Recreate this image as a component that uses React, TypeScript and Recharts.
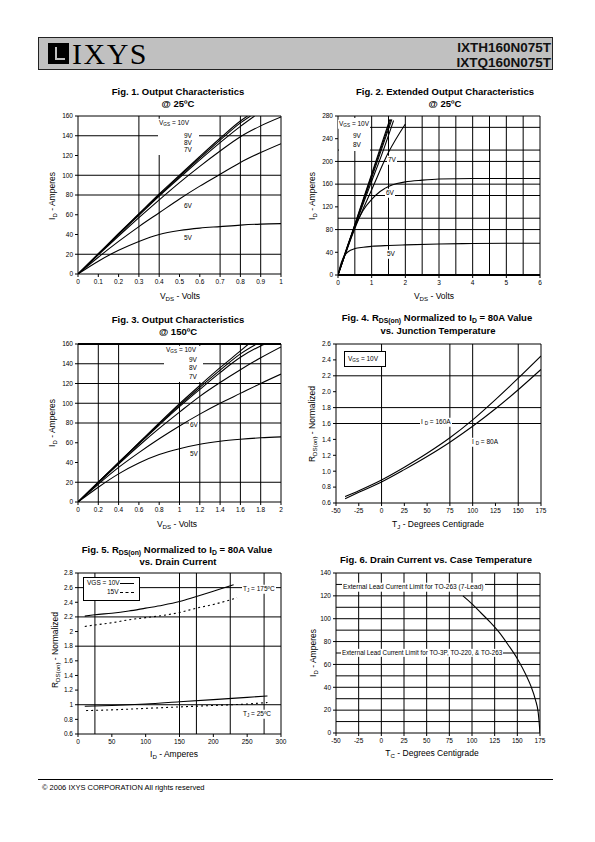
import React from 'react';
import { LineChart, Line, XAxis, YAxis, ReferenceLine } from 'recharts';

const FONT = "'Liberation Sans', Arial, sans-serif";

type Pt = [number, number];

// Fig. 1 - output characteristics @ 25C (VDS, ID)
const f1Vgs10: Pt[] = [[0, 0], [0.1, 20.5], [0.2, 41], [0.3, 61], [0.4, 81], [0.5, 100], [0.6, 119], [0.7, 137.5], [0.8, 155], [0.835, 160]];
const f1Vgs9: Pt[] = [[0, 0], [0.1, 20.3], [0.2, 40.5], [0.3, 60.5], [0.4, 80], [0.5, 99], [0.6, 117.5], [0.7, 135.5], [0.8, 153], [0.85, 160]];
const f1Vgs8: Pt[] = [[0, 0], [0.1, 20], [0.2, 40], [0.3, 59.5], [0.4, 79], [0.5, 97.5], [0.6, 115.5], [0.7, 133], [0.8, 149.5], [0.87, 160]];
const f1Vgs7: Pt[] = [[0, 0], [0.1, 19.5], [0.2, 38.5], [0.3, 57], [0.4, 75], [0.5, 92.5], [0.6, 109], [0.7, 124.5], [0.8, 139], [0.9, 150], [1.0, 159]];
const f1Vgs6: Pt[] = [[0, 0], [0.1, 17], [0.2, 33], [0.3, 48], [0.4, 62], [0.5, 76], [0.6, 89], [0.7, 101], [0.8, 113], [0.9, 123], [1.0, 132]];
const f1Vgs5: Pt[] = [[0, 0], [0.1, 13], [0.2, 24], [0.3, 33], [0.4, 40], [0.5, 44], [0.6, 46.5], [0.7, 48], [0.8, 49.5], [0.9, 50.5], [1.0, 51]];

// Fig. 2 - extended output characteristics @ 25C
const f2Vgs10: Pt[] = [[0, 0], [0.5, 89], [1, 178], [1.54, 274]];
const f2Vgs9: Pt[] = [[0, 0], [0.5, 88], [1, 175], [1.57, 274]];
const f2Vgs8: Pt[] = [[0, 0], [0.5, 87], [1, 171], [1.6, 274]];
const f2Vgs8b: Pt[] = [[0, 0], [0.5, 85], [1, 165], [1.3, 212], [1.65, 272]];
const f2Vgs7: Pt[] = [[0, 0], [0.5, 82], [1, 150], [1.5, 216], [2, 266]];
const f2Vgs6: Pt[] = [[0, 0], [0.25, 46], [0.5, 85], [0.75, 114], [1, 133], [1.25, 147], [1.5, 156], [1.75, 161], [2, 164], [2.5, 167], [3, 169], [4, 170], [5, 170], [6, 170]];
const f2Vgs5: Pt[] = [[0, 0], [0.1, 22], [0.2, 35], [0.3, 41], [0.5, 46.5], [0.75, 49], [1, 50.5], [1.5, 52], [2, 53], [3, 54.5], [4, 55.5], [5, 56], [6, 56]];

// Fig. 3 - output characteristics @ 150C
const f3Vgs10: Pt[] = [[0, 0], [0.2, 20], [0.4, 40], [0.6, 60], [0.8, 80], [1.0, 99.5], [1.2, 118], [1.4, 136], [1.6, 153], [1.68, 160]];
const f3Vgs9: Pt[] = [[0, 0], [0.2, 20], [0.4, 40], [0.6, 59.5], [0.8, 79], [1.0, 98], [1.2, 116], [1.4, 133.5], [1.6, 150], [1.76, 160]];
const f3Vgs8: Pt[] = [[0, 0], [0.2, 20], [0.4, 39.5], [0.6, 59], [0.8, 78], [1.0, 96.5], [1.2, 114], [1.4, 131], [1.6, 146.5], [1.8, 158], [1.845, 160]];
const f3Vgs7: Pt[] = [[0, 0], [0.2, 19.5], [0.4, 38.5], [0.6, 57], [0.8, 74.5], [1.0, 91], [1.2, 107], [1.4, 121], [1.6, 134], [1.8, 146], [2.0, 157]];
const f3Vgs6: Pt[] = [[0, 0], [0.2, 18], [0.4, 35], [0.6, 50], [0.8, 64], [1.0, 77], [1.2, 89], [1.4, 100], [1.6, 110], [1.8, 120], [2.0, 129.5]];
const f3Vgs5: Pt[] = [[0, 0], [0.2, 15], [0.4, 28.5], [0.6, 39.5], [0.8, 48], [1.0, 54], [1.2, 58.5], [1.4, 61.5], [1.6, 63.5], [1.8, 65], [2.0, 66]];

// Fig. 4 - RDS(on) normalized vs TJ
const f4Id160: Pt[] = [[-40, 0.68], [-25, 0.755], [0, 0.89], [25, 1.05], [50, 1.225], [75, 1.42], [100, 1.645], [125, 1.9], [150, 2.17], [175, 2.45]];
const f4Id80: Pt[] = [[-40, 0.655], [-25, 0.735], [0, 0.865], [25, 1.02], [50, 1.185], [75, 1.365], [100, 1.565], [125, 1.785], [150, 2.025], [175, 2.28]];

// Fig. 5 - RDS(on) normalized vs ID
const f5Hot10: Pt[] = [[10, 2.21], [25, 2.23], [50, 2.25], [75, 2.28], [100, 2.32], [125, 2.36], [150, 2.41], [175, 2.48], [200, 2.55], [230, 2.64]];
const f5Hot15: Pt[] = [[10, 2.07], [25, 2.09], [50, 2.12], [75, 2.16], [100, 2.19], [125, 2.22], [150, 2.26], [175, 2.32], [200, 2.37], [235, 2.46]];
const f5Cold10: Pt[] = [[10, 0.98], [50, 0.99], [100, 1.01], [150, 1.04], [200, 1.07], [250, 1.1], [280, 1.12]];
const f5Cold15: Pt[] = [[12, 0.92], [50, 0.93], [100, 0.95], [150, 0.97], [200, 0.99], [250, 1.01], [280, 1.03]];

// Fig. 6 - drain current vs case temperature
const f6Id: Pt[] = [[90, 120], [100, 113], [110, 105], [120, 97], [130, 88], [140, 77], [150, 65], [160, 50], [165, 41], [170, 29], [173, 18], [175, 0]];

// ticks / grid values
const tk1x = [0, 0.1, 0.2, 0.3, 0.4, 0.5, 0.6, 0.7, 0.8, 0.9, 1];
const tk160 = [0, 20, 40, 60, 80, 100, 120, 140, 160];
const tk2x = [0, 1, 2, 3, 4, 5, 6];
const tk2y = [0, 40, 80, 120, 160, 200, 240, 280];
const tk3x = [0, 0.2, 0.4, 0.6, 0.8, 1, 1.2, 1.4, 1.6, 1.8, 2];
const tkTemp = [-50, -25, 0, 25, 50, 75, 100, 125, 150, 175];
const tk4y = [0.6, 0.8, 1.0, 1.2, 1.4, 1.6, 1.8, 2.0, 2.2, 2.4, 2.6];
const tk5x = [0, 50, 100, 150, 200, 250, 300];
const tk5y = [0.6, 0.8, 1, 1.2, 1.4, 1.6, 1.8, 2, 2.2, 2.4, 2.6, 2.8];
const tk6y = [0, 20, 40, 60, 80, 100, 120, 140];

const g1h = [20, 80, 100, 140];
const g1v = [0.3, 0.4, 0.7, 0.8, 0.9];
const g2h = [80, 100, 140, 160, 200, 220, 260];
const g2v = [0.5, 1, 1.5, 2, 2.5, 3, 3.5, 4, 4.5, 5, 5.5];
const g3h = [20, 80, 100, 120, 140];
const g3v = [0.2, 0.4, 1, 1.2, 1.4, 1.6, 1.8];
const g4h = [1.6, 1.8, 2.2];
const g4v = [0, 75, 100, 150];
const g5h = [1, 1.8, 2.2, 2.6];
const g5v = [25, 150, 175, 225, 275];
const g6h = [10, 20, 30, 40, 50, 60, 70, 80, 90, 100, 110, 120, 130];
const g6v = [-25, 0, 25, 50, 75, 100, 125, 150];

const rows = (pts: Pt[]) => pts.map(([x, y]) => ({ x, y }));

interface Series { pts: Pt[]; dash?: string }

interface PlotProps {
  left: number; top: number; w: number; h: number;
  xDomain: [number, number]; yDomain: [number, number];
  xTicks: number[]; yTicks: number[];
  yFmt?: (v: number) => string;
  hGrid: number[]; vGrid: number[];
  series: Series[];
  bottomW?: number; topW?: number;
}

function Plot(p: PlotProps) {
  const tick = { fontSize: 6.5, fill: '#000', fontFamily: FONT };
  return (
    <div style={{ position: 'absolute', left: p.left - 40, top: p.top - 4 }}>
      <LineChart width={p.w + 48} height={p.h + 20} margin={{ top: 4, right: 8, bottom: 0, left: 0 }}>
        <XAxis type="number" dataKey="x" domain={p.xDomain} ticks={p.xTicks} interval={0} allowDataOverflow
          tick={tick} tickSize={3} tickLine={{ stroke: '#000' }} axisLine={{ stroke: '#000', strokeWidth: p.bottomW ?? 1 }} height={16} />
        <YAxis type="number" domain={p.yDomain} ticks={p.yTicks} interval={0} allowDataOverflow tickFormatter={p.yFmt}
          tick={tick} tickSize={3} tickLine={{ stroke: '#000' }} axisLine={{ stroke: '#000' }} width={40} />
        {p.hGrid.map((v) => <ReferenceLine key={'h' + v} y={v} stroke="#000" strokeWidth={1} />)}
        {p.vGrid.map((v) => <ReferenceLine key={'v' + v} x={v} stroke="#000" strokeWidth={1} />)}
        <ReferenceLine y={p.yDomain[1]} stroke="#000" strokeWidth={p.topW ?? 1} />
        <ReferenceLine x={p.xDomain[1]} stroke="#000" strokeWidth={1} />
        {p.series.map((s, i) => (
          <Line key={i} data={rows(s.pts)} dataKey="y" type="monotone" stroke="#000" strokeWidth={1.1}
            strokeDasharray={s.dash} dot={false} isAnimationActive={false} />
        ))}
      </LineChart>
    </div>
  );
}

const Sub = ({ children }: { children: React.ReactNode }) => (
  <sub style={{ fontSize: '0.72em', verticalAlign: '-0.3em', lineHeight: 0 }}>{children}</sub>
);

function CText({ x, y, size = 8.5, bold, children }: { x: number; y: number; size?: number; bold?: boolean; children: React.ReactNode }) {
  return (
    <div style={{ position: 'absolute', left: x, top: y, transform: 'translate(-50%,-50%)', whiteSpace: 'nowrap',
      fontSize: size, fontWeight: bold ? 'bold' : 'normal', lineHeight: 1 }}>{children}</div>
  );
}

function VText({ x, y, children }: { x: number; y: number; children: React.ReactNode }) {
  return (
    <div style={{ position: 'absolute', left: x, top: y, transform: 'translate(-50%,-50%) rotate(-90deg)', whiteSpace: 'nowrap',
      fontSize: 8.5, lineHeight: 1 }}>{children}</div>
  );
}

function Tag({ x, y, size = 6.5, children }: { x: number; y: number; size?: number; children: React.ReactNode }) {
  return (
    <div style={{ position: 'absolute', left: x, top: y, transform: 'translateY(-50%)', whiteSpace: 'nowrap', background: '#fff',
      fontSize: size, lineHeight: 1, padding: '1px 1px' }}>{children}</div>
  );
}

function WhiteBox({ x, y, w, h, border }: { x: number; y: number; w: number; h: number; border?: boolean }) {
  return <div style={{ position: 'absolute', left: x, top: y, width: w, height: h, background: '#fff', boxSizing: 'border-box',
    border: border ? '1px solid #000' : 'none' }} />;
}

export default function App() {
  const f4 = (v: number) => v.toFixed(1);
  return (
    <div style={{ position: 'absolute', left: 0, top: 0, width: 595, height: 842, background: '#fff', fontFamily: FONT, color: '#000' }}>
      {/* header */}
      <div style={{ position: 'absolute', left: 38, top: 37, width: 515, height: 33, background: '#c0c0c0', border: '1px solid #222', boxSizing: 'border-box' }} />
      <div style={{ position: 'absolute', left: 48, top: 43, width: 21, height: 21, background: '#000' }} />
      <div style={{ position: 'absolute', left: 55, top: 47, width: 10, height: 13, background: '#c0c0c0' }} />
      <div style={{ position: 'absolute', left: 57, top: 47, width: 8, height: 11, background: '#000' }} />
      <div style={{ position: 'absolute', left: 72, top: 38, fontFamily: "'Liberation Serif', 'Times New Roman', serif", fontSize: 30, lineHeight: '32px', letterSpacing: 1.5 }}>IXYS</div>
      <div style={{ position: 'absolute', right: 44, top: 40, fontSize: 13.5, fontWeight: 'bold', lineHeight: '15px', textAlign: 'right', color: '#111' }}>
        IXTH160N075T<br />IXTQ160N075T
      </div>

      {/* Fig 1 */}
      <CText x={178} y={92} size={9.5} bold>Fig. 1. Output Characteristics</CText>
      <CText x={178} y={104} size={9.5} bold>@ 25ºC</CText>
      <Plot left={78} top={116} w={203} h={158} xDomain={[0, 1]} yDomain={[0, 160]} xTicks={tk1x} yTicks={tk160}
        hGrid={g1h} vGrid={g1v}
        series={[{ pts: f1Vgs10 }, { pts: f1Vgs9 }, { pts: f1Vgs8 }, { pts: f1Vgs7 }, { pts: f1Vgs6 }, { pts: f1Vgs5 }]} />
      <WhiteBox x={158} y={119} w={41} h={36} />
      <Tag x={158} y={123}>V<Sub>GS</Sub> = 10V</Tag>
      <Tag x={183} y={136}>9V</Tag>
      <Tag x={183} y={143}>8V</Tag>
      <Tag x={183} y={150}>7V</Tag>
      <Tag x={183} y={206}>6V</Tag>
      <Tag x={183} y={238}>5V</Tag>
      <CText x={180} y={296}>V<Sub>DS</Sub> - Volts</CText>
      <VText x={52} y={196}>I<Sub>D</Sub> - Amperes</VText>

      {/* Fig 2 */}
      <CText x={445} y={92} size={9.5} bold>Fig. 2. Extended Output Characteristics</CText>
      <CText x={445} y={104} size={9.5} bold>@ 25ºC</CText>
      <Plot left={338} top={116} w={202} h={159} xDomain={[0, 6]} yDomain={[0, 280]} xTicks={tk2x} yTicks={tk2y}
        hGrid={g2h} vGrid={g2v} bottomW={2}
        series={[{ pts: f2Vgs10 }, { pts: f2Vgs9 }, { pts: f2Vgs8 }, { pts: f2Vgs8b }, { pts: f2Vgs7 }, { pts: f2Vgs6 }, { pts: f2Vgs5 }]} />
      <WhiteBox x={339} y={118} w={31} h={33} />
      <Tag x={338} y={124}>V<Sub>GS</Sub> = 10V</Tag>
      <Tag x={352} y={136}>9V</Tag>
      <Tag x={352} y={145}>8V</Tag>
      <Tag x={387} y={160}>7V</Tag>
      <Tag x={385} y={193}>6V</Tag>
      <Tag x={386} y={254}>5V</Tag>
      <CText x={434} y={296}>V<Sub>DS</Sub> - Volts</CText>
      <VText x={312} y={196}>I<Sub>D</Sub> - Amperes</VText>

      {/* Fig 3 */}
      <CText x={178} y={320} size={9.5} bold>Fig. 3. Output Characteristics</CText>
      <CText x={178} y={332} size={9.5} bold>@ 150ºC</CText>
      <Plot left={78} top={344} w={203} h={158} xDomain={[0, 2]} yDomain={[0, 160]} xTicks={tk3x} yTicks={tk160}
        hGrid={g3h} vGrid={g3v} topW={2}
        series={[{ pts: f3Vgs10 }, { pts: f3Vgs9 }, { pts: f3Vgs8 }, { pts: f3Vgs7 }, { pts: f3Vgs6 }, { pts: f3Vgs5 }]} />
      <WhiteBox x={164} y={346} w={39} h={36} />
      <Tag x={165} y={350}>V<Sub>GS</Sub> = 10V</Tag>
      <Tag x={188} y={360}>9V</Tag>
      <Tag x={188} y={368}>8V</Tag>
      <Tag x={188} y={377}>7V</Tag>
      <Tag x={189} y={425}>6V</Tag>
      <Tag x={189} y={454}>5V</Tag>
      <CText x={177} y={524}>V<Sub>DS</Sub> - Volts</CText>
      <VText x={52} y={423}>I<Sub>D</Sub> - Amperes</VText>

      {/* Fig 4 */}
      <CText x={437} y={318} size={9.5} bold>Fig. 4. R<Sub>DS(on)</Sub> Normalized to I<Sub>D</Sub> = 80A Value</CText>
      <CText x={438} y={331} size={9.5} bold>vs. Junction Temperature</CText>
      <Plot left={336} top={344} w={205} h={159} xDomain={[-50, 175]} yDomain={[0.6, 2.6]} xTicks={tkTemp} yTicks={tk4y} yFmt={f4}
        hGrid={g4h} vGrid={g4v}
        series={[{ pts: f4Id160 }, { pts: f4Id80 }]} />
      <WhiteBox x={344} y={351} w={42} h={16} border />
      <Tag x={347} y={358.5}>V<Sub>GS</Sub> = 10V</Tag>
      <Tag x={420} y={422}>I <Sub>D</Sub> = 160A</Tag>
      <Tag x={471} y={442}>I <Sub>D</Sub> = 80A</Tag>
      <CText x={438} y={524}>T<Sub>J</Sub> - Degrees Centigrade</CText>
      <VText x={312} y={424}>R<Sub>DS(on)</Sub> - Normalized</VText>

      {/* Fig 5 */}
      <CText x={177} y={550} size={9.5} bold>Fig. 5. R<Sub>DS(on)</Sub> Normalized to I<Sub>D</Sub> = 80A Value</CText>
      <CText x={178} y={562} size={9.5} bold>vs. Drain Current</CText>
      <Plot left={78} top={573} w={203} h={161} xDomain={[0, 300]} yDomain={[0.6, 2.8]} xTicks={tk5x} yTicks={tk5y}
        hGrid={g5h} vGrid={g5v}
        series={[{ pts: f5Hot10 }, { pts: f5Hot15, dash: '2 3' }, { pts: f5Cold10 }, { pts: f5Cold15, dash: '2 3' }]} />
      <WhiteBox x={83} y={577} w={57} h={24} border />
      <Tag x={86} y={583}>VGS = 10V</Tag>
      <div style={{ position: 'absolute', left: 120, top: 583, width: 14, borderTop: '1px solid #000' }} />
      <Tag x={106} y={592}>15V</Tag>
      <div style={{ position: 'absolute', left: 120, top: 592, width: 14, borderTop: '1px dashed #000' }} />
      <Tag x={242} y={589}>T<Sub>J</Sub> = 175ºC</Tag>
      <Tag x={242} y={714}>T<Sub>J</Sub> = 25ºC</Tag>
      <CText x={174} y={754}>I<Sub>D</Sub> - Amperes</CText>
      <VText x={55} y={650}>R<Sub>DS(on)</Sub> - Normalized</VText>

      {/* Fig 6 */}
      <CText x={436} y={560} size={9.5} bold>Fig. 6. Drain Current vs. Case Temperature</CText>
      <Plot left={336} top={573} w={204} h={160} xDomain={[-50, 175]} yDomain={[0, 140]} xTicks={tkTemp} yTicks={tk6y}
        hGrid={g6h} vGrid={g6v}
        series={[{ pts: f6Id }]} />
      <Tag x={342} y={587} size={6.6}>External Lead Current Limit for TO-263 (7-Lead)</Tag>
      <Tag x={341} y={653} size={6.3}>External Lead Current Limit for TO-3P, TO-220, &amp; TO-263</Tag>
      <CText x={432} y={753}>T<Sub>C</Sub> - Degrees Centigrade</CText>
      <VText x={313} y={653}>I<Sub>D</Sub> - Amperes</VText>

      {/* footer */}
      <div style={{ position: 'absolute', left: 38, top: 779, width: 515, borderTop: '1px solid #000' }} />
      <div style={{ position: 'absolute', left: 42, top: 784, fontSize: 7.5, lineHeight: 1, whiteSpace: 'nowrap' }}>© 2006 IXYS CORPORATION All rights reserved</div>
    </div>
  );
}
